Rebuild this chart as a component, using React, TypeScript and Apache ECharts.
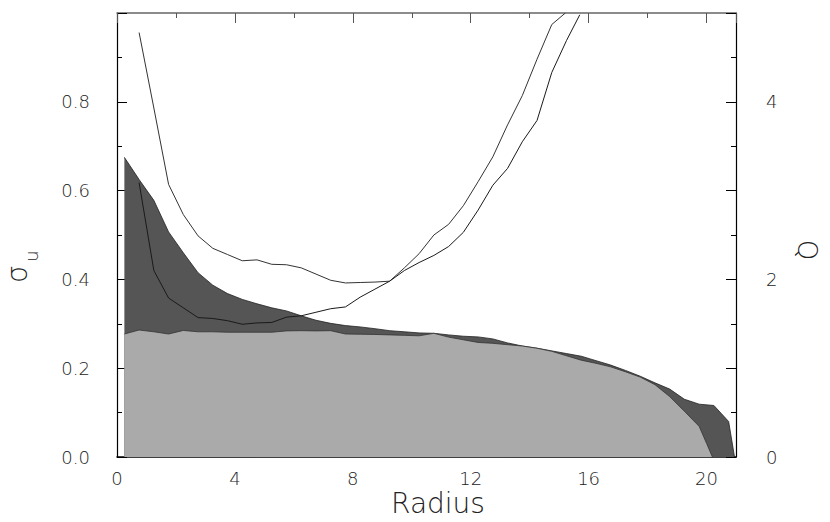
import React, { useEffect, useRef } from "react";
import * as echarts from "echarts";

// Upper (dark) velocity-dispersion profile
const radiusDark = [0.25, 0.75, 1.25, 1.75, 2.25, 2.75, 3.25, 3.75, 4.25, 4.75, 5.25, 5.75, 6.25, 6.75, 7.25, 7.75, 8.25, 8.75, 9.25, 9.75, 10.25, 10.75, 11.25, 11.75, 12.25, 12.75, 13.25, 13.75, 14.25, 14.75, 15.25, 15.75, 16.25, 16.75, 17.25, 17.75, 18.25, 18.75, 19.25, 19.75, 20.25, 20.75, 20.95];
const sigmaDark = [0.675, 0.625, 0.578, 0.507, 0.46, 0.415, 0.387, 0.368, 0.355, 0.345, 0.336, 0.329, 0.318, 0.308, 0.301, 0.296, 0.293, 0.289, 0.2845, 0.282, 0.2795, 0.2786, 0.275, 0.272, 0.2705, 0.266, 0.257, 0.25, 0.245, 0.239, 0.233, 0.227, 0.217, 0.207, 0.195, 0.182, 0.167, 0.153, 0.13, 0.119, 0.116, 0.08, 0.0];

// Lower (light) velocity-dispersion profile
const radiusLight = [0.25, 0.75, 1.25, 1.75, 2.25, 2.75, 3.25, 3.75, 4.25, 4.75, 5.25, 5.75, 6.25, 6.75, 7.25, 7.75, 8.25, 8.75, 9.25, 9.75, 10.25, 10.75, 11.25, 11.75, 12.25, 12.75, 13.25, 13.75, 14.25, 14.75, 15.25, 15.75, 16.25, 16.75, 17.25, 17.75, 18.25, 18.75, 19.25, 19.75, 20.0, 20.2];
const sigmaLight = [0.277, 0.286, 0.282, 0.277, 0.285, 0.282, 0.282, 0.281, 0.281, 0.281, 0.281, 0.284, 0.2845, 0.284, 0.2845, 0.277, 0.2765, 0.276, 0.275, 0.274, 0.273, 0.2786, 0.27, 0.264, 0.258, 0.256, 0.253, 0.25, 0.245, 0.238, 0.228, 0.218, 0.211, 0.203, 0.192, 0.18, 0.163, 0.136, 0.103, 0.069, 0.031, 0.0];

// Toomre Q curves (right axis)
const radiusQ1 = [0.75, 1.25, 1.75, 2.25, 2.75, 3.25, 3.75, 4.25, 4.75, 5.25, 5.75, 6.25, 6.75, 7.25, 7.75, 8.25, 8.75, 9.25, 9.75, 10.25, 10.75, 11.25, 11.75, 12.25, 12.75, 13.25, 13.75, 14.25, 14.75, 15.21];
const q1 = [4.78, 3.93, 3.07, 2.73, 2.49, 2.35, 2.28, 2.21, 2.22, 2.17, 2.165, 2.13, 2.06, 1.99, 1.96, 1.965, 1.97, 1.98, 2.13, 2.29, 2.5, 2.62, 2.83, 3.1, 3.38, 3.74, 4.07, 4.48, 4.87, 5.0];
const radiusQ2 = [0.75, 1.25, 1.75, 2.25, 2.75, 3.25, 3.75, 4.25, 4.75, 5.25, 5.75, 6.25, 6.75, 7.25, 7.75, 8.25, 8.75, 9.25, 9.75, 10.25, 10.75, 11.25, 11.75, 12.25, 12.75, 13.25, 13.75, 14.25, 14.75, 15.25, 15.7];
const q2 = [3.09, 2.1, 1.79, 1.68, 1.57, 1.56, 1.535, 1.495, 1.51, 1.515, 1.575, 1.59, 1.63, 1.67, 1.69, 1.8, 1.89, 1.98, 2.1, 2.19, 2.27, 2.37, 2.53, 2.78, 3.06, 3.25, 3.55, 3.79, 4.33, 4.69, 4.98];

const xTitle = "Radius";
const yLeftTitle = "σ";
const yLeftSub = "u";
const yRightTitle = "Q";

const FONT = "DejaVu Sans";
const TEXT_COLOR = "#222";

export default function App() {
  const ref = useRef<HTMLDivElement>(null);
  useEffect(() => {
    const chart = echarts.init(ref.current as HTMLDivElement, null, { renderer: "svg" });
    const labelStyle = { fontFamily: FONT, fontSize: 18, fontWeight: 200, color: TEXT_COLOR };
    const noSplit = { show: false };
    const xBase = { type: "value", min: 0, max: 21, splitLine: noSplit };
    chart.setOption({
      animation: false,
      backgroundColor: "#ffffff",
      grid: { left: 117, right: 94, top: 13, bottom: 65, containLabel: false },
      xAxis: [
        {
          ...xBase, position: "bottom", interval: 4,
          axisLine: { show: true, onZero: false, lineStyle: { color: "#000", width: 1.5 } },
          axisTick: { show: true, inside: true, length: 10, lineStyle: { color: "#000", width: 1 } },
          axisLabel: { ...labelStyle, margin: 12, showMaxLabel: false },
        },
        {
          ...xBase, position: "bottom", interval: 2,
          axisLine: { show: false, onZero: false },
          axisTick: { show: true, inside: true, length: 5, lineStyle: { color: "#000", width: 1 } },
          axisLabel: { show: false },
        },
        {
          ...xBase, position: "top", interval: 4,
          axisLine: { show: true, onZero: false, lineStyle: { color: "#666", width: 1.5 } },
          axisTick: { show: true, inside: true, length: 10, lineStyle: { color: "#555", width: 1 } },
          axisLabel: { show: false },
        },
        {
          ...xBase, position: "top", interval: 2,
          axisLine: { show: false, onZero: false },
          axisTick: { show: true, inside: true, length: 5, lineStyle: { color: "#555", width: 1 } },
          axisLabel: { show: false },
        },
      ],
      yAxis: [
        {
          type: "value", position: "left", min: 0, max: 1, interval: 0.2, splitLine: noSplit,
          axisLine: { show: true, onZero: false, lineStyle: { color: "#000", width: 1.2 } },
          axisTick: { show: true, inside: true, length: 10, lineStyle: { color: "#000", width: 1 } },
          minorTick: { show: true, splitNumber: 2, length: 5, lineStyle: { color: "#000", width: 1 } },
          minorSplitLine: { show: false },
          axisLabel: {
            ...labelStyle, margin: 27, showMaxLabel: false, padding: [8, 0, 0, 0],
            formatter: (v: number) => v.toFixed(1),
          },
        },
        {
          type: "value", position: "right", min: 0, max: 5, interval: 1, splitLine: noSplit,
          axisLine: { show: true, onZero: false, lineStyle: { color: "#000", width: 1.2 } },
          axisTick: { show: true, inside: true, length: 10, lineStyle: { color: "#000", width: 1 } },
          minorTick: { show: true, splitNumber: 2, length: 5, lineStyle: { color: "#000", width: 1 } },
          minorSplitLine: { show: false },
          axisLabel: {
            ...labelStyle, margin: 30, showMaxLabel: false, padding: [8, 0, 0, 0],
            formatter: (v: number) => (Math.round(v) % 2 === 0 ? String(Math.round(v)) : ""),
          },
        },
      ],
      series: [
        {
          type: "line", xAxisIndex: 0, yAxisIndex: 0, symbol: "none", z: 2,
          data: radiusDark.map((r, i) => [r, sigmaDark[i]]),
          lineStyle: { color: "#222", width: 0.8 },
          areaStyle: { color: "#555555", opacity: 1 },
        },
        {
          type: "line", xAxisIndex: 0, yAxisIndex: 0, symbol: "none", z: 3,
          data: radiusLight.map((r, i) => [r, sigmaLight[i]]),
          lineStyle: { color: "#333", width: 0.8 },
          areaStyle: { color: "#aaaaaa", opacity: 1 },
        },
        {
          type: "line", xAxisIndex: 0, yAxisIndex: 1, symbol: "none", z: 4,
          data: radiusQ1.map((r, i) => [r, q1[i]]),
          lineStyle: { color: "#333", width: 1 },
        },
        {
          type: "line", xAxisIndex: 0, yAxisIndex: 1, symbol: "none", z: 4,
          data: radiusQ2.map((r, i) => [r, q2[i]]),
          lineStyle: { color: "#1a1a1a", width: 1 },
        },
      ],
      graphic: [
        {
          type: "text", x: 438, y: 503,
          style: { text: xTitle, fontFamily: FONT, fontSize: 28, fontWeight: 200, fill: TEXT_COLOR, align: "center", verticalAlign: "middle" },
        },
        {
          type: "text", x: 17.5, y: 274, rotation: Math.PI / 2,
          style: { text: yLeftTitle, fontFamily: FONT, fontSize: 28, fontWeight: 200, fill: TEXT_COLOR, align: "center", verticalAlign: "middle" },
        },
        {
          type: "text", x: 31.5, y: 256, rotation: Math.PI / 2,
          style: { text: yLeftSub, fontFamily: FONT, fontSize: 18, fontWeight: 200, fill: TEXT_COLOR, align: "center", verticalAlign: "middle" },
        },
        {
          type: "text", x: 807, y: 250, rotation: -Math.PI / 2,
          style: { text: yRightTitle, fontFamily: FONT, fontSize: 26, fontWeight: 200, fill: TEXT_COLOR, align: "center", verticalAlign: "middle" },
        },
      ],
    });
    return () => chart.dispose();
  }, []);
  return (
    <div
      ref={ref}
      style={{ position: "fixed", left: 0, top: 0, width: 830, height: 522, background: "#fff" }}
    />
  );
}
